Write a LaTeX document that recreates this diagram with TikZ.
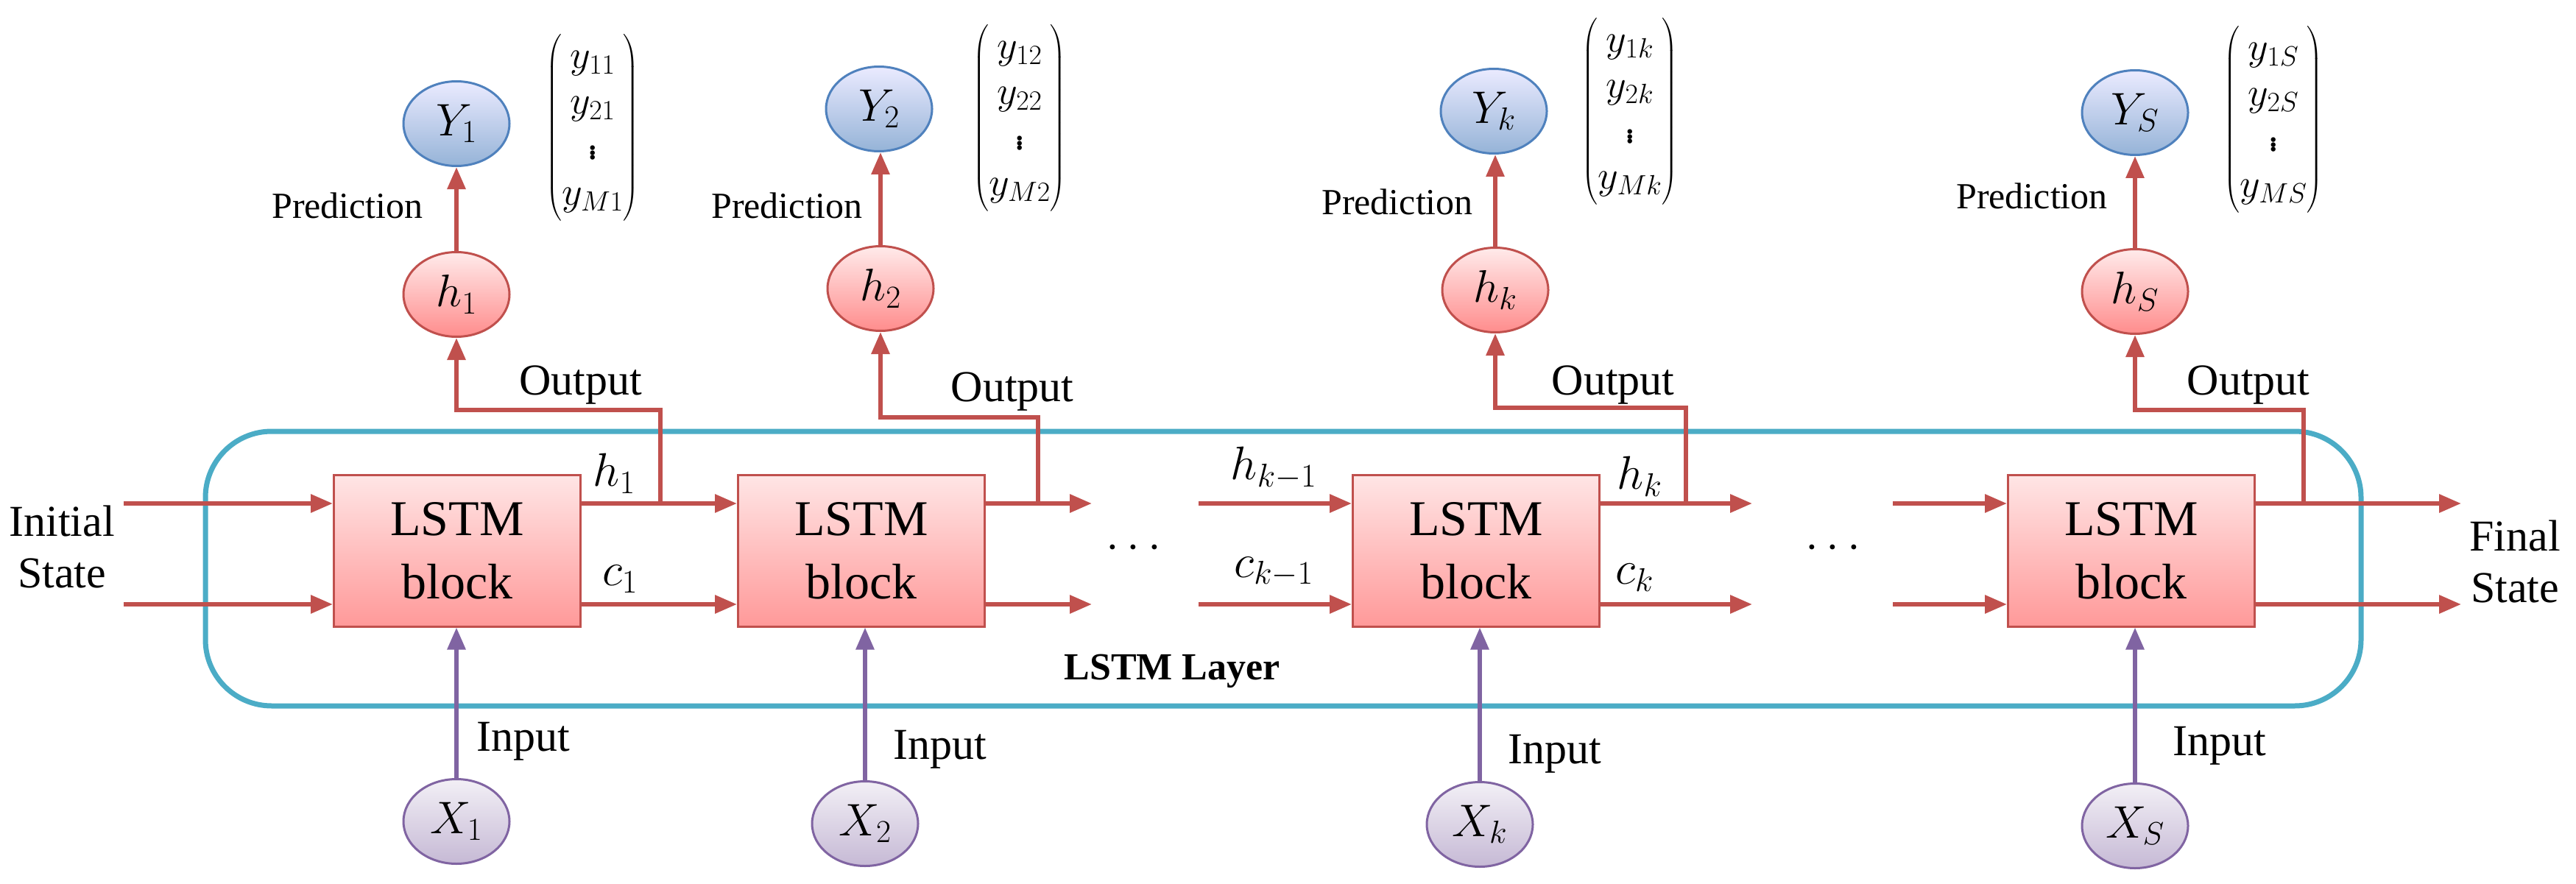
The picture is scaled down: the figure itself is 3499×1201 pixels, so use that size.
\RequirePackage{fix-cm}
\documentclass[tikz,border=0pt]{standalone}
\usepackage{amsmath}
\usepackage{fontspec}
\setmainfont{Liberation Serif}
\usetikzlibrary{arrows.meta,shapes.geometric}
\definecolor{rline}{HTML}{C0504D}
\definecolor{bline}{HTML}{4BACC6}
\definecolor{pline}{HTML}{8064A2}
\definecolor{yline}{HTML}{4F81BD}
\tikzset{
 ra/.style={draw=rline,line width=6pt,-{Triangle[length=30pt,width=24pt]}},
 pa/.style={draw=pline,line width=6pt,-{Triangle[length=30pt,width=24pt]}},
 blk/.style={draw=rline,line width=3pt,top color=red!10,bottom color=red!40!white,minimum width=335pt,minimum height=206pt,inner sep=0pt,align=center,font=\fontsize{68}{86}\selectfont},
 ell/.style={ellipse,minimum width=144pt,minimum height=115pt,inner sep=0pt,line width=3pt,font=\fontsize{62}{70}\selectfont},
 hn/.style={ell,draw=rline,top color=red!8,bottom color=red!45!white},
 yn/.style={ell,draw=yline,top color=blue!8,bottom color=yline!60!white},
 xn/.style={ell,draw=pline,top color=pline!10,bottom color=pline!45!white},
 lab/.style={inner sep=0pt,font=\fontsize{60}{70}\selectfont},
 pred/.style={inner sep=0pt,font=\fontsize{50}{60}\selectfont},
 ml/.style={inner sep=0pt,font=\fontsize{64}{70}\selectfont},
 vec/.style={inner sep=0pt,font=\fontsize{54}{62}\selectfont},
}
\begin{document}
\begin{tikzpicture}[x=1pt,y=-1pt]
\useasboundingbox[fill=white] (0,0) rectangle (3499,1201);
\draw[bline,line width=7pt,rounded corners=90pt] (279,586) rectangle (3207,959);
\node[inner sep=0pt,font=\bfseries\fontsize{52}{60}\selectfont] (layer) at (1592,912) {LSTM Layer};
% blocks
\node[blk] (b1) at (621,748) {LSTM\\block};
\node[blk] (b2) at (1170,748) {LSTM\\block};
\node[blk] (b3) at (2005,748) {LSTM\\block};
\node[blk] (b4) at (2895,748) {LSTM\\block};
% circles
\node[hn] (h1) at (620,400) {$h_1$};
\node[hn] (h2) at (1196,392) {$h_2$};
\node[hn] (hk) at (2031,394) {$h_k$};
\node[hn] (hS) at (2900,396) {$h_S$};
\node[yn] (Y1) at (620,168) {$Y_1$};
\node[yn] (Y2) at (1194,148) {$Y_2$};
\node[yn] (Yk) at (2029,151) {$Y_k$};
\node[yn] (YS) at (2900,153) {$Y_S$};
\node[xn] (X1) at (620,1116) {$X_1$};
\node[xn] (X2) at (1175,1119) {$X_2$};
\node[xn] (Xk) at (2010,1120) {$X_k$};
\node[xn] (XS) at (2900,1122) {$X_S$};
% vectors
\node[vec] (v1) at (805,173) {$\begin{pmatrix}y_{11}\\ y_{21}\\ \vdots\\ y_{M1}\end{pmatrix}$};
\node[vec] (v2) at (1385,160) {$\begin{pmatrix}y_{12}\\ y_{22}\\ \vdots\\ y_{M2}\end{pmatrix}$};
\node[vec] (vk) at (2214,151) {$\begin{pmatrix}y_{1k}\\ y_{2k}\\ \vdots\\ y_{Mk}\end{pmatrix}$};
\node[vec] (vS) at (3088,162) {$\begin{pmatrix}y_{1S}\\ y_{2S}\\ \vdots\\ y_{MS}\end{pmatrix}$};
% coordinates for free ends
\coordinate (i1) at (168,684); \coordinate (i2) at (168,821);
\coordinate (e2a) at (1483,684); \coordinate (e2b) at (1483,821);
\coordinate (s3a) at (1628,684); \coordinate (s3b) at (1628,821);
\coordinate (e3a) at (2380,684); \coordinate (e3b) at (2380,821);
\coordinate (s4a) at (2571,684); \coordinate (s4b) at (2571,821);
\coordinate (f1) at (3343,684); \coordinate (f2) at (3343,821);
% horizontal arrows
\draw[ra] (i1) -- (i1 -| b1.west);
\draw[ra] (i2) -- (i2 -| b1.west);
\draw[ra] (b1.east |- i1) -- (b2.west |- i1);
\draw[ra] (b1.east |- i2) -- (b2.west |- i2);
\draw[ra] (b2.east |- i1) -- (e2a);
\draw[ra] (b2.east |- i2) -- (e2b);
\draw[ra] (s3a) -- (s3a -| b3.west);
\draw[ra] (s3b) -- (s3b -| b3.west);
\draw[ra] (b3.east |- i1) -- (e3a);
\draw[ra] (b3.east |- i2) -- (e3b);
\draw[ra] (s4a) -- (s4a -| b4.west);
\draw[ra] (s4b) -- (s4b -| b4.west);
\draw[ra] (b4.east |- i1) -- (f1);
\draw[ra] (b4.east |- i2) -- (f2);
% output paths
\coordinate (o1) at (897,684); \coordinate (t1) at (897,557);
\coordinate (o2) at (1410,684); \coordinate (t2) at (1410,567);
\coordinate (ok) at (2290,684); \coordinate (tk) at (2290,554);
\coordinate (oS) at (3129,684); \coordinate (tS) at (3129,557);
\draw[ra] (o1) -- (t1) -| (h1.south);
\draw[ra] (o2) -- (t2) -| (h2.south);
\draw[ra] (ok) -- (tk) -| (hk.south);
\draw[ra] (oS) -- (tS) -| (hS.south);
% predictions
\draw[ra] (h1.north) -- (h1.north |- Y1.south);
\draw[ra] (h2.north) -- (h2.north |- Y2.south);
\draw[ra] (hk.north) -- (hk.north |- Yk.south);
\draw[ra] (hS.north) -- (hS.north |- YS.south);
% inputs
\draw[pa] (X1.north) -- (X1.north |- b1.south);
\draw[pa] (X2.north) -- (X2.north |- b2.south);
\draw[pa] (Xk.north) -- (Xk.north |- b3.south);
\draw[pa] (XS.north) -- (XS.north |- b4.south);
% labels
\node[lab,align=center] (init) at (84,743) {Initial\\State};
\node[lab,align=center] (fin) at (3416,763) {Final\\State};
\node[lab] (out1) at (789,523) {Output};
\node[lab] (out2) at (1375,532) {Output};
\node[lab] (outk) at (2191,523) {Output};
\node[lab] (outS) at (3054,523) {Output};
\node[pred] (p1) at (472,279) {Prediction};
\node[pred] (p2) at (1069,279) {Prediction};
\node[pred] (pk) at (1898,274) {Prediction};
\node[pred] (pS) at (2760,266) {Prediction};
\node[lab] (in1) at (711,1007) {Input};
\node[lab] (in2) at (1277,1018) {Input};
\node[lab] (ink) at (2112,1024) {Input};
\node[lab] (inS) at (3015,1013) {Input};
\node[ml] (lh1) at (834,643) {$h_1$};
\node[ml] (lc1) at (842,787) {$c_1$};
\node[ml] (lhk1) at (1730,636) {$h_{k-1}$};
\node[ml] (lck1) at (1730,777) {$c_{k-1}$};
\node[ml] (lhk) at (2227,647) {$h_k$};
\node[ml] (lck) at (2220,785) {$c_k$};
\node[ml] (d1) at (1545,745) {$\cdots$};
\node[ml] (d2) at (2495,745) {$\cdots$};
\end{tikzpicture}
\end{document}
